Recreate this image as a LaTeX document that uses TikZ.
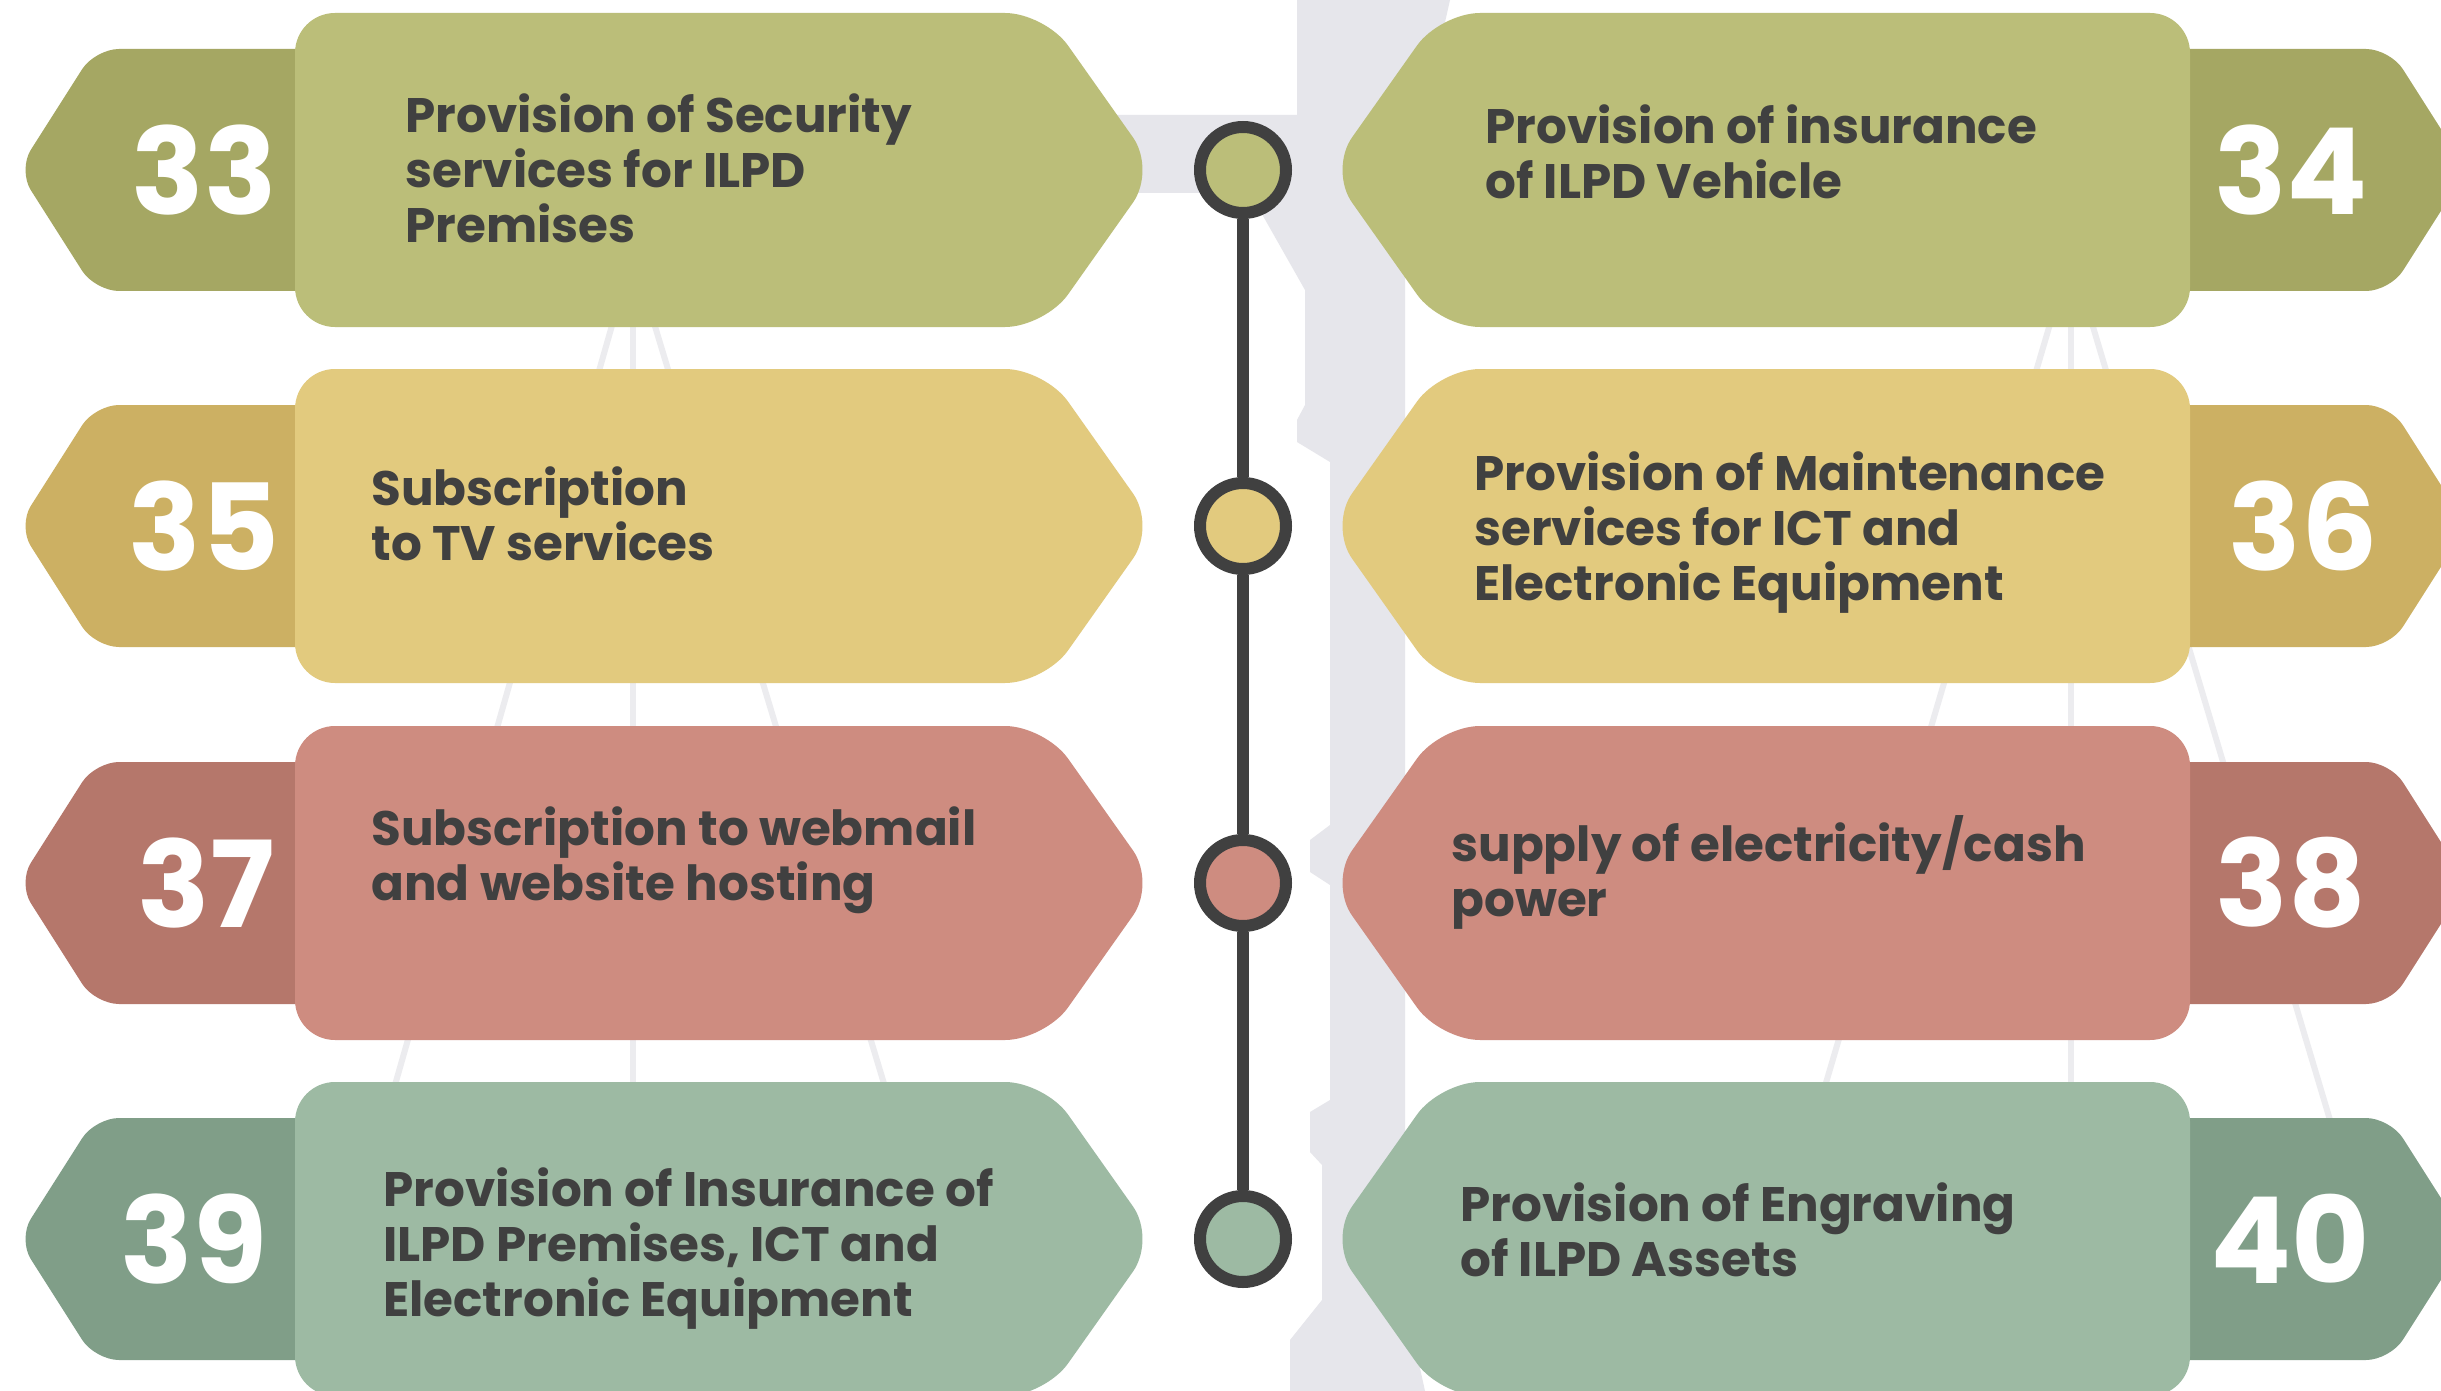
\documentclass[tikz,border=0pt]{standalone}
\usepackage{fontspec}
\setmainfont{Poppins}
\usetikzlibrary{positioning}

\definecolor{ink}{HTML}{404040}
\definecolor{olvmain}{HTML}{BBBE79}
\definecolor{olvtag}{HTML}{A5A763}
\definecolor{sndmain}{HTML}{E2CA7E}
\definecolor{sndtag}{HTML}{CCB063}
\definecolor{rosmain}{HTML}{CE8C80}
\definecolor{rostag}{HTML}{B5776B}
\definecolor{sgemain}{HTML}{9DBAA3}
\definecolor{sgetag}{HTML}{809E88}
\definecolor{figgrey}{HTML}{E6E6EB}
\definecolor{faint}{HTML}{ECECEF}

\begin{document}
\begin{tikzpicture}[
  x=0.5pt, y=-0.5pt,
  item/.style={anchor=west, align=left, text=ink, inner sep=0pt,
               font=\bfseries\fontsize{24.2}{27.5}\selectfont},
  num/.style={text=white, inner sep=0pt, font=\bfseries\fontsize{60}{60}\selectfont},
  dot/.style={circle, draw=ink, line width=6pt, minimum size=43pt, inner sep=0pt},
  stem/.style={draw=ink, line width=6pt},
  fan/.style={draw=faint, line width=3pt}
]
\useasboundingbox (0,0) rectangle (2441,1391);
\begin{scope}
\clip (0,0) rectangle (2441,1391);
\fill[white] (0,0) rectangle (2441,1391);

%--- faint figure behind -----------------------------------------------------
\fill[figgrey] (1297,0) -- (1297,115) -- (1100,115) -- (1100,193) -- (1250,193)
  -- (1305,290) -- (1305,405) -- (1297,420) -- (1297,442) -- (1330,462)
  -- (1330,825) -- (1310,840) -- (1310,872) -- (1330,885) -- (1330,1100)
  -- (1310,1112) -- (1310,1152) -- (1322,1165) -- (1322,1300) -- (1290,1340)
  -- (1290,1391) -- (1425,1391) -- (1405,1300) -- (1405,200) -- (1450,0) -- cycle;
\draw[fan] (633,280) -- (633,1391);
\draw[fan] (625,280) -- (385,1120);
\draw[fan] (641,280) -- (895,1120);
\draw[fan] (2071,280) -- (2071,1391);
\draw[fan] (2063,280) -- (1815,1120);
\draw[fan] (2079,280) -- (2330,1120);

%--- cards -------------------------------------------------------------------
\foreach \yy/\main/\tag in {170/olvmain/olvtag, 526/sndmain/sndtag,
                            883/rosmain/rostag, 1239/sgemain/sgetag}{
  \fill[\tag, rounded corners=12pt] (400,\yy-121) -- (95,\yy-121) -- (18,\yy)
    -- (95,\yy+121) -- (400,\yy+121) -- cycle;
  \fill[\main, rounded corners=20pt] (295,\yy-157) -- (1045,\yy-157) -- (1156,\yy)
    -- (1045,\yy+157) -- (295,\yy+157) -- cycle;
  \fill[\tag, rounded corners=12pt] (2085,\yy-121) -- (2390,\yy-121) -- (2467,\yy)
    -- (2390,\yy+121) -- (2085,\yy+121) -- cycle;
  \fill[\main, rounded corners=20pt] (2190,\yy-157) -- (1440,\yy-157) -- (1329,\yy)
    -- (1440,\yy+157) -- (2190,\yy+157) -- cycle;
}

%--- timeline ----------------------------------------------------------------
\node[dot, fill=olvmain] (d1) at (1243,170) {};
\node[dot, fill=sndmain] (d2) at (1243,526) {};
\node[dot, fill=rosmain] (d3) at (1243,883) {};
\node[dot, fill=sgemain] (d4) at (1243,1239) {};
\foreach \s/\d in {d1/d2,d2/d3,d3/d4} \draw[stem] (\s) -- (\d);

%--- numbers -----------------------------------------------------------------
\node[num] (n33) at (204,170) {33};
\node[num] (n35) at (204,526) {35};
\node[num] (n37) at (206,883) {37};
\node[num] (n39) at (194,1239) {39};
\node[num] (n34) at (2291,170) {34};
\node[num] (n36) at (2303,526) {36};
\node[num] (n38) at (2291,883) {38};
\node[num] (n40) at (2290,1239) {40};

%--- texts -------------------------------------------------------------------
\node[item] (t33) at (405,168) {Provision of Security\\services for ILPD\\Premises};
\node[item] (t35) at (371,514) {Subscription\\to TV services};
\node[item] (t37) at (371,860) {Subscription to webmail\\and website hosting};
\node[item] (t39) at (383,1249) {Provision of Insurance of\\ILPD Premises, ICT and\\Electronic Equipment};
\node[item] (t34) at (1485,152) {Provision of insurance\\of ILPD Vehicle};
\node[item] (t36) at (1474,533) {Provision of Maintenance\\services for ICT and\\Electronic Equipment};
\node[item] (t38) at (1451,872) {supply of electricity/cash\\power};
\node[item] (t40) at (1460,1230) {Provision of Engraving\\of ILPD Assets};
\end{scope}
\end{tikzpicture}
\end{document}
